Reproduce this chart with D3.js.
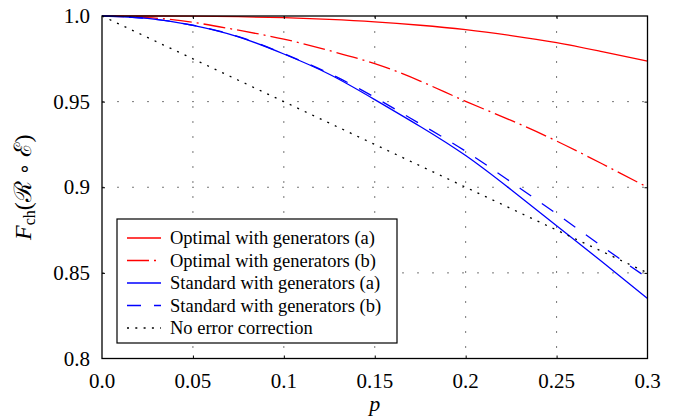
<!DOCTYPE html>
<html>
<head>
<meta charset="utf-8">
<script src="https://cdn.jsdelivr.net/npm/d3@7"></script>
<style>
    body { margin: 0; background: #fff; }
    svg text { font-family: "Liberation Serif", "DejaVu Serif", serif; }
</style>
</head>
<body>
<svg id="chart" width="674" height="420"></svg>
<script>
// data
var pVals = [0, 0.025, 0.05, 0.075, 0.1, 0.125, 0.15, 0.175, 0.2, 0.225, 0.25, 0.275, 0.3];
var optimalA = [1.0, 1.0, 0.9999, 0.9996, 0.999, 0.998, 0.9966, 0.9946, 0.992, 0.9886, 0.9845, 0.9792, 0.9737];
var optimalB = [1.0, 0.9991, 0.9963, 0.9917, 0.9865, 0.9798, 0.9722, 0.962, 0.9502, 0.939, 0.927, 0.9137, 0.900];
var standardA = [1.0, 0.9986, 0.9945, 0.9878, 0.9778, 0.966, 0.9512, 0.9355, 0.9185, 0.8985, 0.8775, 0.8565, 0.835];
var standardB = [1.0, 0.9986, 0.9946, 0.988, 0.978, 0.9665, 0.9525, 0.937, 0.921, 0.903, 0.8845, 0.8655, 0.847];
var noCorrection = [1.0, 0.9875, 0.975, 0.9625, 0.95, 0.9375, 0.925, 0.9125, 0.9, 0.8875, 0.875, 0.8625, 0.85];

var xTicks = [0, 0.05, 0.1, 0.15, 0.2, 0.25, 0.3];
var xTickLabels = ["0.0", "0.05", "0.1", "0.15", "0.2", "0.25", "0.3"];
var yTicks = [0.8, 0.85, 0.9, 0.95, 1.0];
var yTickLabels = ["0.8", "0.85", "0.9", "0.95", "1.0"];

var seriesNames = ["Optimal with generators (a)", "Optimal with generators (b)",
                   "Standard with generators (a)", "Standard with generators (b)",
                   "No error correction"];
var seriesValues = [optimalA, optimalB, standardA, standardB, noCorrection];

// styles
var seriesStyle = [
    { color: "#ff0000", dash: null },
    { color: "#ff0000", dash: "22,5,2,5" },
    { color: "#0000ff", dash: null },
    { color: "#0000ff", dash: "14,13" },
    { color: "#000000", dash: "2,6.3" }
];

var svg = d3.select("#chart"),
    pL = 102, pR = 647.5, pT = 16, pB = 358.5;

var x = d3.scaleLinear().domain([0, 0.3]).range([pL, pR]),
    y = d3.scaleLinear().domain([0.8, 1.0]).range([pB, pT]);

svg.append("clipPath").attr("id", "plotClip")
    .append("rect")
    .attr("x", pL).attr("y", pT - 1)
    .attr("width", pR - pL).attr("height", pB - pT + 1);

// grid
var grid = svg.append("g")
    .attr("stroke", "#777")
    .attr("stroke-width", 1)
    .attr("stroke-dasharray", "2,13");

grid.selectAll("line.gx")
    .data(xTicks.slice(1, -1))
  .enter().append("line")
    .attr("x1", function(d){ return x(d); })
    .attr("x2", function(d){ return x(d); })
    .attr("y1", pT)
    .attr("y2", pB);

grid.selectAll("line.gy")
    .data(yTicks.slice(1, -1))
  .enter().append("line")
    .attr("y1", function(d){ return y(d); })
    .attr("y2", function(d){ return y(d); })
    .attr("x1", pL)
    .attr("x2", pR);

// curves
var lineGen = function(vals){
    return d3.line()
        .x(function(d, i){ return x(pVals[i]); })
        .y(function(d){ return y(d); })
        .curve(d3.curveNatural)(vals);
};

var curves = svg.append("g").attr("clip-path", "url(#plotClip)");
seriesValues.forEach(function(vals, i){
    curves.append("path")
        .attr("fill", "none")
        .attr("stroke", seriesStyle[i].color)
        .attr("stroke-width", 1.3)
        .attr("stroke-dasharray", seriesStyle[i].dash)
        .attr("d", lineGen(vals));
});

// axes (inward ticks on all four sides)
var mkAxis = function(axis, tr, ticks){
    svg.append("g")
        .attr("transform", tr)
        .call(axis.tickValues(ticks).tickSize(-3).tickFormat(""))
        .call(function(g){ g.select(".domain").remove(); })
        .selectAll("line").attr("stroke", "#000");
};
mkAxis(d3.axisBottom(x), "translate(0," + pB + ")", xTicks.slice(1, -1));
mkAxis(d3.axisTop(x), "translate(0," + pT + ")", xTicks.slice(1, -1));
mkAxis(d3.axisLeft(y), "translate(" + pL + ",0)", yTicks.slice(1, -1));
mkAxis(d3.axisRight(y), "translate(" + pR + ",0)", yTicks.slice(1, -1));

svg.append("rect")
    .attr("x", pL).attr("y", pT)
    .attr("width", pR - pL).attr("height", pB - pT)
    .attr("fill", "none")
    .attr("stroke", "#000")
    .attr("stroke-width", 1.3);

// tick labels
svg.selectAll("text.xl")
    .data(xTicks)
  .enter().append("text")
    .attr("x", function(d){ return x(d); })
    .attr("y", 388)
    .attr("text-anchor", "middle")
    .attr("font-size", 21)
    .text(function(d, i){ return xTickLabels[i]; });

svg.selectAll("text.yl")
    .data(yTicks)
  .enter().append("text")
    .attr("x", 90)
    .attr("y", function(d){ return y(d) + 7; })
    .attr("text-anchor", "end")
    .attr("font-size", 21)
    .text(function(d, i){ return yTickLabels[i]; });

// axis titles
svg.append("text")
    .attr("x", x(0.15))
    .attr("y", 411)
    .attr("text-anchor", "middle")
    .attr("font-size", 22)
    .attr("font-style", "italic")
    .text("p");

var yt = svg.append("text")
    .attr("transform", "translate(31," + ((pT + pB) / 2) + ") rotate(-90)")
    .attr("text-anchor", "middle")
    .attr("font-size", 24);
yt.append("tspan").attr("font-style", "italic").text("F");
yt.append("tspan").attr("font-size", 16).attr("dy", 4).text("ch");
yt.append("tspan").attr("dy", -4).text("(ℛ ");
yt.append("tspan").attr("font-family", "DejaVu Sans").attr("font-size", 20).text("∘");
yt.append("tspan").attr("font-size", 24).text(" ℰ)");

// legend
var lg = svg.append("g");
lg.append("rect")
    .attr("x", 117).attr("y", 219)
    .attr("width", 280).attr("height", 124)
    .attr("fill", "#fff")
    .attr("stroke", "#000")
    .attr("stroke-width", 1.2);

seriesNames.forEach(function(name, i){
    var ly = 238 + i * 22.5;
    lg.append("line")
        .attr("x1", 127).attr("x2", 161)
        .attr("y1", ly).attr("y2", ly)
        .attr("stroke", seriesStyle[i].color)
        .attr("stroke-width", 1.3)
        .attr("stroke-dasharray", seriesStyle[i].dash);
    lg.append("text")
        .attr("x", 170)
        .attr("y", ly + 6)
        .attr("font-size", 18.5)
        .text(name);
});
</script>
</body>
</html>
